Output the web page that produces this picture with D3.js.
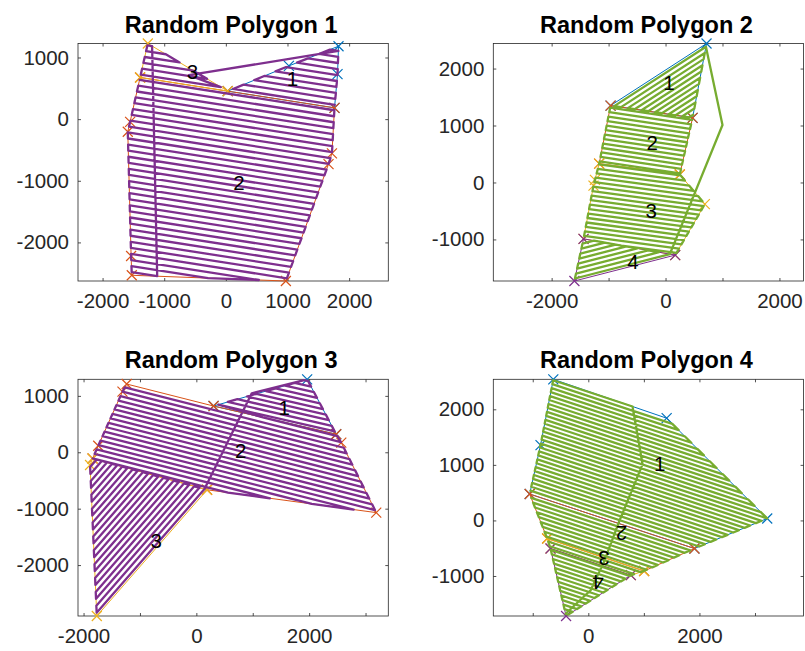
<!DOCTYPE html>
<html>
<head>
<meta charset="utf-8">
<script src="https://cdn.jsdelivr.net/npm/d3@7"></script>
<style>
  body { margin: 0; background: #fff; }
  svg { display: block; }
</style>
</head>
<body>
<svg id="fig" width="805" height="651"></svg>
<script>
// Default MATLAB line colour order: one colour per cell, the next one for the coverage route
const colorOrder = ["#0072BD", "#D95319", "#EDB120", "#7E2F8E", "#77AC30"];
const titles = ["Random Polygon 1", "Random Polygon 2", "Random Polygon 3", "Random Polygon 4"];

// ---------- Random Polygon 1 ----------
const poly1Cell1 = [[30, 454], [1023, 864], [1828, 1183], [1812, 729], [1763, 183]];
const poly1Cell2 = [[30, 454], [1763, 183], [1721, -556], [1666, -729], [974, -2626], [-1526, -2533],
                    [-1537, -2220], [-1591, -205], [-1553, -44], [-1391, 676]];
const poly1Cell3 = [[-1391, 676], [-1266, 1227], [30, 454]];
const poly1SweepAngles = [-8.88, -8.88, -8.88];          // degrees, per cell
const poly1LabelAt = [[1081, 648], [214, -1032], [-542, 767]];
const poly1LabelRot = [0, 0, 0];
const poly1Order = [0, 2, 1];                              // cells visited by the route
const poly1Links = [[[-600, 715]], []];                    // waypoints between visited cells
const poly1Passes = [{ sweep: 1, finish: "hi" }, { sweep: 1, start: "hi" }, { sweep: 1, start: "hi" }];
const poly1Spacing = 97;
const poly1XTicks = [-2000, -1000, 0, 1000, 2000];
const poly1XLabels = [-2000, -1000, 0, 1000, 2000];
const poly1YTicks = [-2000, -1000, 0, 1000];

// ---------- Random Polygon 2 ----------
const poly2Cell1 = [[-965, 1350], [720, 2440], [475, 1135]];
const poly2Cell2 = [[-965, 1350], [475, 1135], [250, 140], [-1165, 330]];
const poly2Cell3 = [[-1165, 330], [250, 140], [690, -380], [170, -1275], [-1440, -990], [-1265, -55], [-1240, 45]];
const poly2Cell4 = [[-1440, -990], [170, -1275], [-1600, -1730]];
const poly2SweepAngles = [32.9, -8.49, -7.65, 14.4];
const poly2LabelAt = [[58, 1750], [-235, 696], [-253, -503], [-574, -1386]];
const poly2LabelRot = [0, 0, 0, 0];
const poly2Order = [0, 3, 2, 1];
const poly2Links = [[[1000, 1010]], [], []];
const poly2Passes = [{ sweep: 1, finish: "hi" }, { sweep: 1, start: "lo" }, { sweep: 1, start: "lo" }, { sweep: 1, start: "hi" }];
const poly2Spacing = 80;
const poly2XTicks = [-2000, -1000, 0, 1000, 2000];
const poly2XLabels = [-2000, 0, 2000];
const poly2YTicks = [-1000, 0, 1000, 2000];

// ---------- Random Polygon 3 ----------
const poly3Cell1 = [[305, 820], [1965, 1294], [2480, 320]];
const poly3Cell2 = [[-1235, 1210], [305, 820], [2480, 320], [2570, 170], [3190, -1070], [190, -665],
                    [-1840, -110], [-1740, 115], [-1310, 1075]];
const poly3Cell3 = [[-1840, -110], [190, -665], [-1765, -2903], [-1885, -225]];
const poly3SweepAngles = [-12.95, -14.2, 48.9];
const poly3LabelAt = [[1556, 789], [787, 27], [-712, -1573]];
const poly3LabelRot = [0, 0, 0];
const poly3Order = [2, 0, 1];
const poly3Links = [[[982, 1046]], []];
const poly3Passes = [{ sweep: -1, start: "lo" }, { sweep: -1, start: "lo" }, { sweep: -1, finish: "hi" }];
const poly3Spacing = 85;
const poly3XTicks = [-2000, -1000, 0, 1000, 2000, 3000];
const poly3XLabels = [-2000, 0, 2000];
const poly3YTicks = [-2000, -1000, 0, 1000];

// ---------- Random Polygon 4 ----------
const poly4Cell1 = [[-630, 2540], [1410, 1840], [3220, 35], [1910, -505], [-1055, 475], [-860, 1355]];
const poly4Cell2 = [[-1055, 475], [1910, -505], [1005, -910], [-740, -325]];
const poly4Cell3 = [[-740, -325], [1005, -910], [765, -985], [-680, -505]];
const poly4Cell4 = [[-680, -505], [765, -985], [-400, -1720]];
const poly4SweepAngles = [-18.3, -18.3, -18.3, -18.3];
const poly4LabelAt = [[1287, 1011], [597, -234], [282, -685], [174, -1117]];
const poly4LabelRot = [0, 180, 180, 180];
const poly4Order = [0, 3, 2, 1];
const poly4Links = [[[976, 1010], [553, -25], [282, -746], [42, -1256]], [], []];
const poly4Passes = [{ sweep: 1, finish: "hi", phase: 0.85 }, { sweep: 1, start: "hi" }, { sweep: 1, start: "hi" }, { sweep: 1, start: "lo" }];
const poly4Spacing = 72;
const poly4XTicks = [-1000, 0, 1000, 2000, 3000];
const poly4XLabels = [0, 2000];
const poly4YTicks = [-1000, 0, 1000, 2000];

// Axes boxes in the figure: [left, top, width, height]
const panels = [
  { title: titles[0], box: [78, 43.5, 310.3, 237.5], cells: [poly1Cell1, poly1Cell2, poly1Cell3],
    angles: poly1SweepAngles, labelAt: poly1LabelAt, labelRot: poly1LabelRot, order: poly1Order,
    links: poly1Links, passes: poly1Passes, spacing: poly1Spacing,
    xTicks: poly1XTicks, xLabels: poly1XLabels, yTicks: poly1YTicks },
  { title: titles[1], box: [493.3, 43.5, 310.3, 237.5], cells: [poly2Cell1, poly2Cell2, poly2Cell3, poly2Cell4],
    angles: poly2SweepAngles, labelAt: poly2LabelAt, labelRot: poly2LabelRot, order: poly2Order,
    links: poly2Links, passes: poly2Passes, spacing: poly2Spacing,
    xTicks: poly2XTicks, xLabels: poly2XLabels, yTicks: poly2YTicks },
  { title: titles[2], box: [78, 379.3, 310.3, 236.7], cells: [poly3Cell1, poly3Cell2, poly3Cell3],
    angles: poly3SweepAngles, labelAt: poly3LabelAt, labelRot: poly3LabelRot, order: poly3Order,
    links: poly3Links, passes: poly3Passes, spacing: poly3Spacing,
    xTicks: poly3XTicks, xLabels: poly3XLabels, yTicks: poly3YTicks },
  { title: titles[3], box: [493.3, 379.3, 310.3, 236.7], cells: [poly4Cell1, poly4Cell2, poly4Cell3, poly4Cell4],
    angles: poly4SweepAngles, labelAt: poly4LabelAt, labelRot: poly4LabelRot, order: poly4Order,
    links: poly4Links, passes: poly4Passes, spacing: poly4Spacing,
    xTicks: poly4XTicks, xLabels: poly4XLabels, yTicks: poly4YTicks }
];

const FONT = '"Liberation Sans", Arial, Helvetica, sans-serif';
const AXIS_COLOR = "#262626";
const svg = d3.select("#fig");

// Parallel sweep lines through a cell: each returned as [low end, high end] along the sweep direction
function sweepLines(pts, angleDeg, spacing, phase) {
  const a = angleDeg * Math.PI / 180;
  const d = [Math.cos(a), Math.sin(a)];
  const n = [-Math.sin(a), Math.cos(a)];
  const offs = pts.map(p => p[0] * n[0] + p[1] * n[1]);
  const lo = d3.min(offs), hi = d3.max(offs);
  const lines = [];
  for (let o = lo + phase * spacing; o < hi; o += spacing) {
    const hits = [];
    pts.forEach((p, i) => {
      const j = (i + 1) % pts.length;
      const q = pts[j], op = offs[i], oq = offs[j];
      if ((op - o) * (oq - o) < 0) {
        const t = (o - op) / (oq - op);
        hits.push([p[0] + t * (q[0] - p[0]), p[1] + t * (q[1] - p[1])]);
      }
    });
    if (hits.length >= 2) {
      hits.sort((u, v) => (u[0] * d[0] + u[1] * d[1]) - (v[0] * d[0] + v[1] * d[1]));
      lines.push([hits[0], hits[hits.length - 1]]);
    }
  }
  return lines;
}

// Back-and-forth route over the sweep lines of one cell
function cellRoute(lines, pass) {
  const seq = pass.sweep > 0 ? lines.slice() : lines.slice().reverse();
  const n = seq.length;
  const opp = s => (s === "lo" ? "hi" : "lo");
  let start = pass.start;
  if (!start) start = (n % 2 === 1) ? opp(pass.finish) : pass.finish;
  const idx = s => (s === "lo" ? 0 : 1);
  const out = [];
  seq.forEach((ln, i) => {
    const from = i % 2 === 0 ? start : opp(start);
    out.push(ln[idx(from)], ln[idx(opp(from))]);
  });
  return out;
}

function drawPanel(p) {
  const [L, T, W, H] = p.box;
  const allPts = p.cells.flat().concat(p.links.flat());
  const [x0, x1] = d3.extent(allPts, d => d[0]);
  const [y0, y1] = d3.extent(allPts, d => d[1]);
  const k = H / (y1 - y0);                 // equal data units on both axes
  const xc = (x0 + x1) / 2;
  const x = d3.scaleLinear([xc - W / 2 / k, xc + W / 2 / k], [L, L + W]);
  const y = d3.scaleLinear([y0, y1], [T + H, T]);

  const g = svg.append("g");

  // Axes with inward ticks on all four sides
  const fmt = labeled => v => (labeled.includes(v) ? String(v) : "");
  const styleAxis = sel => {
    sel.select(".domain").remove();
    sel.attr("font-family", null).attr("font-size", null);
    sel.selectAll(".tick line").attr("stroke", AXIS_COLOR).attr("stroke-width", 0.8);
    sel.selectAll(".tick text").attr("fill", AXIS_COLOR)
      .style("font-family", FONT).style("font-size", "20.5px");
  };
  g.append("g").attr("transform", `translate(0,${T + H})`)
    .call(d3.axisBottom(x).tickValues(p.xTicks).tickFormat(fmt(p.xLabels)).tickSize(-3).tickPadding(12))
    .call(styleAxis);
  g.append("g").attr("transform", `translate(0,${T})`)
    .call(d3.axisTop(x).tickValues(p.xTicks).tickFormat(() => "").tickSize(-3))
    .call(styleAxis);
  g.append("g").attr("transform", `translate(${L},0)`)
    .call(d3.axisLeft(y).tickValues(p.yTicks).tickFormat(v => String(v)).tickSize(-3).tickPadding(9))
    .call(styleAxis);
  g.append("g").attr("transform", `translate(${L + W},0)`)
    .call(d3.axisRight(y).tickValues(p.yTicks).tickFormat(() => "").tickSize(-3))
    .call(styleAxis);
  g.append("rect").attr("x", L).attr("y", T).attr("width", W).attr("height", H)
    .attr("fill", "none").attr("stroke", AXIS_COLOR).attr("stroke-width", 0.8);

  // Title
  g.append("text").attr("x", L + W / 2 - 2).attr("y", T - 11)
    .attr("text-anchor", "middle").style("font-family", FONT)
    .style("font-size", "23.5px").style("font-weight", "bold").attr("fill", "#000")
    .text(p.title);

  const line = d3.line().x(d => x(d[0])).y(d => y(d[1]));

  // Cell outlines with cross markers on the vertices
  p.cells.forEach((cell, i) => {
    const c = colorOrder[i];
    g.append("path").attr("d", line(cell.concat([cell[0]])))
      .attr("fill", "none").attr("stroke", c).attr("stroke-width", 1);
    const h = 5;
    g.append("g").selectAll("path").data(cell).join("path")
      .attr("d", d => {
        const px = x(d[0]), py = y(d[1]);
        return `M${px - h},${py - h}L${px + h},${py + h}M${px - h},${py + h}L${px + h},${py - h}`;
      })
      .attr("fill", "none").attr("stroke", c).attr("stroke-width", 1.2);
  });

  // Coverage route: sweeps inside each cell, joined through the link waypoints
  let route = [];
  p.order.forEach((ci, step) => {
    const pass = p.passes[ci];
    const lines = sweepLines(p.cells[ci], p.angles[ci], p.spacing, pass.phase ?? 0.5);
    route = route.concat(cellRoute(lines, pass));
    if (step < p.links.length) route = route.concat(p.links[step]);
  });
  g.append("path").attr("d", line(route))
    .attr("fill", "none").attr("stroke", colorOrder[p.cells.length])
    .attr("stroke-width", 2.3).attr("stroke-linejoin", "round").attr("stroke-linecap", "round");

  // Cell numbers
  p.labelAt.forEach((pt, i) => {
    const px = x(pt[0]), py = y(pt[1]);
    g.append("text").attr("x", px).attr("y", py)
      .attr("text-anchor", "middle").attr("dy", "0.35em")
      .attr("transform", p.labelRot[i] ? `rotate(${p.labelRot[i]},${px},${py})` : null)
      .style("font-family", FONT).style("font-size", "20.5px").attr("fill", "#000")
      .text(String(i + 1));
  });
}

panels.forEach(drawPanel);
</script>
</body>
</html>
